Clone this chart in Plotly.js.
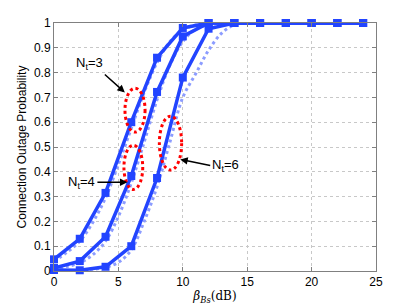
<!DOCTYPE html>
<html>
<head>
<meta charset="utf-8">
<script src="https://cdn.plot.ly/plotly-3.0.1.min.js"></script>
<style>html,body{margin:0;padding:0;background:#fff;}#chart{width:415px;height:305px;}</style>
</head>
<body>
<div id="chart"></div>
<script>
// Simulation points (solid lines with square markers)
const betaSim = [0, 2, 4, 6, 8, 10, 12, 14, 16, 18, 20, 22, 24];
const nt3Sim = [0.047, 0.13, 0.315, 0.60, 0.86, 0.98, 1.0, 1.0, 1.0, 1.0, 1.0, 1.0, 1.0];
const nt4Sim = [0.012, 0.04, 0.138, 0.383, 0.722, 0.946, 1.0, 1.0, 1.0, 1.0, 1.0, 1.0, 1.0];
const nt6Sim = [0.004, 0.003, 0.017, 0.10, 0.375, 0.78, 0.977, 1.0, 1.0, 1.0, 1.0, 1.0, 1.0];

// Analytical curves (dotted)
const betaAna = [0, 1, 2, 3, 4, 5, 6, 7, 8, 9, 10, 11, 12, 13, 14, 15, 16];
const nt3Ana = [0.04, 0.075, 0.12, 0.195, 0.295, 0.43, 0.575, 0.72, 0.84, 0.925, 0.972, 0.992, 0.998, 1.0, 1.0, 1.0, 1.0];
const nt4Ana = [0.008, 0.018, 0.033, 0.065, 0.12, 0.22, 0.355, 0.52, 0.69, 0.83, 0.925, 0.975, 0.993, 0.999, 1.0, 1.0, 1.0];
const nt6Ana = [0.001, 0.002, 0.003, 0.007, 0.015, 0.035, 0.085, 0.2, 0.34, 0.52, 0.70, 0.795, 0.89, 0.958, 0.993, 1.0, 1.0];

const xTicks = [0, 5, 10, 15, 20, 25];
const yTicks = [0, 0.1, 0.2, 0.3, 0.4, 0.5, 0.6, 0.7, 0.8, 0.9, 1];

const solidColor = '#2244ff';
const dotColor = '#8c9cff';

function simTrace(y) {
  return {x: betaSim, y: y, type: 'scatter', mode: 'lines+markers', cliponaxis: false,
    line: {color: solidColor, width: 3.5}, marker: {symbol: 'square', size: 8, color: solidColor}};
}
function anaTrace(y) {
  return {x: betaAna, y: y, type: 'scatter', mode: 'lines', line: {color: dotColor, width: 3, dash: 'dot', shape: 'spline'}};
}

const data = [anaTrace(nt3Ana), anaTrace(nt4Ana), anaTrace(nt6Ana), simTrace(nt3Sim), simTrace(nt4Sim), simTrace(nt6Sim)];

const ell = (x0, x1, y0, y1) => ({type: 'circle', xref: 'x', yref: 'y', x0: x0, x1: x1, y0: y0, y1: y1,
  line: {color: '#ff0000', width: 3, dash: 'dot'}});

const font = {family: 'Liberation Sans, Arial, sans-serif', size: 13, color: '#000'};
const axisCommon = {showline: true, linecolor: '#808080', linewidth: 1, mirror: 'ticks', ticks: 'inside', ticklen: 4,
  tickcolor: '#808080', showgrid: true, gridcolor: '#c8c8c8', griddash: 'dot', gridwidth: 1, zeroline: false,
  tickfont: {family: 'Liberation Sans, Arial, sans-serif', size: 12, color: '#000'}};

const layout = {
  width: 415, height: 305,
  margin: {l: 54, r: 39, t: 23, b: 34},
  paper_bgcolor: '#fff', plot_bgcolor: '#fff',
  showlegend: false,
  xaxis: Object.assign({}, axisCommon, {range: [0, 25], tickvals: xTicks, ticktext: xTicks.map(String),
    title: {text: '<i>β</i><sub><i>Bs</i></sub>(dB)', font: {family: 'DejaVu Serif, Liberation Serif, serif', size: 12, color: '#000'}, standoff: 3}}),
  yaxis: Object.assign({}, axisCommon, {range: [0, 1], tickvals: yTicks, ticktext: yTicks.map(String),
    title: {text: 'Connection Outage Probability', font: {family: 'Liberation Sans, Arial, sans-serif', size: 12, color: '#000'}, standoff: 4}}),
  shapes: [ell(5.51, 7.07, 0.56, 0.737), ell(5.43, 6.89, 0.329, 0.507), ell(8.18, 9.91, 0.407, 0.624)],
  annotations: [
    {x: 5.5, y: 0.72, xref: 'x', yref: 'y', text: 'N<sub>t</sub>=3', showarrow: true, arrowhead: 2, arrowsize: 1, arrowwidth: 1.5,
      arrowcolor: '#000', ax: -20, ay: -18, font: font, xanchor: 'right', yanchor: 'bottom'},
    {x: 5.7, y: 0.358, xref: 'x', yref: 'y', text: 'N<sub>t</sub>=4', showarrow: true, arrowhead: 2, arrowsize: 1, arrowwidth: 1.5,
      arrowcolor: '#000', ax: -30, ay: 0, font: font, xanchor: 'right'},
    {x: 9.8, y: 0.45, xref: 'x', yref: 'y', text: 'N<sub>t</sub>=6', showarrow: true, arrowhead: 2, arrowsize: 1, arrowwidth: 1.5,
      arrowcolor: '#000', ax: 30, ay: 6, font: font, xanchor: 'left'}
  ]
};

Plotly.newPlot('chart', data, layout, {staticPlot: true, displayModeBar: false});
</script>
</body>
</html>
